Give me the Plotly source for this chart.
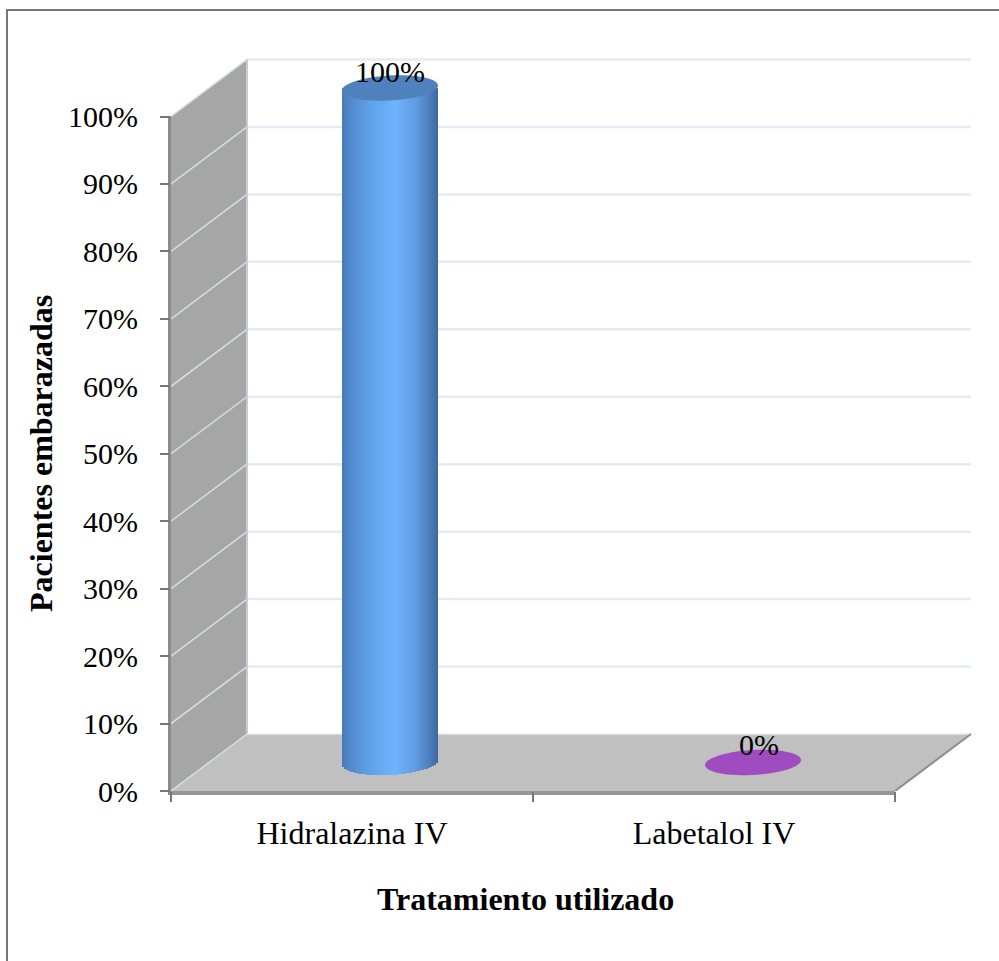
import numpy as np
import plotly.graph_objects as go

categories = ["Hidralazina IV", "Labetalol IV"]
values = [100, 0]
data_labels = ["100%", "0%"]
bar_colors = ["#4f82bd", "#9e4cc0"]
y_ticks = [0, 10, 20, 30, 40, 50, 60, 70, 80, 90, 100]
y_tick_labels = ["0%", "10%", "20%", "30%", "40%", "50%", "60%", "70%", "80%", "90%", "100%"]

# page geometry, in pixels
W, H = 999, 961
LEFT, RIGHT = 171, 975
TOP, BOTTOM = 55, 791
PX_X = 362.0          # one category
PX_Y = 6.745          # one percent

# depth of the fake 3d box in axis units
DEPTH_X = 76 / PX_X
DEPTH_Y = 57 / PX_Y
BAR_HALF = 48 / PX_X
CAP_H = 12.5 / PX_Y
TILT = 2.5 / PX_Y

x_range = [-0.5, -0.5 + (RIGHT - LEFT) / PX_X]
y_range = [0, (BOTTOM - TOP) / PX_Y]

FONT = "Liberation Serif"
GRID = "#e4ebf5"


def paper_x(px):
    return (px - LEFT) / (RIGHT - LEFT)


def paper_y(px):
    return (BOTTOM - px) / (BOTTOM - TOP)


def shade(u):
    # horizontal gradient across the cylinder, u goes -1..1
    stops_u = [-1.0, -0.8, -0.35, 0.1, 0.5, 0.8, 1.0]
    r = [72, 84, 98, 110, 98, 80, 62]
    g = [122, 140, 165, 180, 158, 130, 104]
    b = [186, 206, 236, 255, 228, 195, 160]
    return "rgb(%d,%d,%d)" % (np.interp(u, stops_u, r), np.interp(u, stops_u, g), np.interp(u, stops_u, b))


def ellipse_path(cx, cy, color):
    t = np.linspace(0, 2 * np.pi, 60)
    xs = cx + BAR_HALF * np.cos(t)
    ys = cy + CAP_H * np.sin(t) + TILT * np.cos(t)
    d = "M" + " L".join("%.5f,%.4f" % (a, b) for a, b in zip(xs, ys)) + " Z"
    return dict(type="path", path=d, xref="x", yref="y", fillcolor=color, line_width=0, layer="above")


def line(x0, y0, x1, y1, color, width):
    return dict(type="line", xref="x", yref="y", x0=x0, y0=y0, x1=x1, y1=y1,
                line=dict(color=color, width=width), layer="below")


shapes = []

# side wall and floor
wall = "M-0.5,0 L%.5f,%.4f L%.5f,%.4f L-0.5,100 Z" % (-0.5 + DEPTH_X, DEPTH_Y, -0.5 + DEPTH_X, 100 + DEPTH_Y)
shapes.append(dict(type="path", path=wall, xref="x", yref="y", fillcolor="#a6a6a6", line_width=0, layer="below"))
floor = "M-0.5,0 L1.5,0 L%.5f,%.4f L%.5f,%.4f Z" % (1.5 + DEPTH_X, DEPTH_Y, -0.5 + DEPTH_X, DEPTH_Y)
shapes.append(dict(type="path", path=floor, xref="x", yref="y", fillcolor="#c0c0c0", line_width=0, layer="below"))

# gridlines on back wall and side wall
for v in y_ticks:
    if v > 0:
        shapes.append(line(-0.5 + DEPTH_X, v + DEPTH_Y, 1.5 + DEPTH_X, v + DEPTH_Y, GRID, 2.5))
    shapes.append(line(-0.5, v, -0.5 + DEPTH_X, v + DEPTH_Y, "#d5dde8", 1.5))
shapes.append(line(-0.5 + DEPTH_X, DEPTH_Y, -0.5 + DEPTH_X, 100 + DEPTH_Y, "#c8ccd2", 2))
shapes.append(line(-0.5 + DEPTH_X, DEPTH_Y, 1.5 + DEPTH_X, DEPTH_Y, GRID, 1.5))

# edges of the floor
shapes.append(line(1.5, 0, 1.5 + DEPTH_X, DEPTH_Y, "#8c8c8c", 2))
shapes.append(dict(type="line", xref="x", yref="paper", x0=-0.5, x1=1.5, y0=paper_y(793), y1=paper_y(793),
                   line=dict(color="#969696", width=4), layer="below"))

# dark strip on the axis side of the wall, outside the plot area
shapes.append(dict(type="rect", xref="paper", yref="paper", x0=paper_x(168), x1=paper_x(171),
                   y0=paper_y(795), y1=paper_y(116), fillcolor="#8c8c8c", line_width=0, layer="below"))

# top and left edges of the frame round the picture
shapes.append(dict(type="line", xref="paper", yref="paper", x0=paper_x(6), x1=paper_x(W), y0=paper_y(10), y1=paper_y(10),
                   line=dict(color="#777777", width=2), layer="below"))
shapes.append(dict(type="line", xref="paper", yref="paper", x0=paper_x(7), x1=paper_x(7), y0=paper_y(H), y1=paper_y(9),
                   line=dict(color="#777777", width=2), layer="below"))

# the cylinders are drawn as thin vertical slices so they get a gradient
slice_x, slice_y, slice_base, slice_color = [], [], [], []
slice_w = 2 / PX_X
for cat, val, col in zip(range(len(categories)), values, bar_colors):
    cx = cat + DEPTH_X / 2
    cy = DEPTH_Y / 2
    if val > 0:
        for u in np.arange(-1 + 1 / 48, 1, 2 / 48):
            drop = CAP_H * np.sqrt(1 - u * u) - TILT * u
            slice_x.append(cx + u * BAR_HALF)
            slice_base.append(cy - drop)
            slice_y.append(val + drop)
            slice_color.append(shade(u))
    shapes.append(ellipse_path(cx + cat * 0.003, cy + val, col))

fig = go.Figure()
fig.add_trace(go.Bar(
    x=slice_x,
    y=slice_y,
    base=slice_base,
    width=slice_w * 1.15,
    marker=dict(color=slice_color, line_width=0),
    showlegend=False,
    hoverinfo="skip"
))

annotations = []
for cat, val, lab in zip(range(len(categories)), values, data_labels):
    annotations.append(dict(x=cat + DEPTH_X / 2 + cat * 0.018, y=val + DEPTH_Y / 2 + 2.4 + cat * 0.3, xref="x", yref="y", text=lab,
                            showarrow=False, xanchor="center", yanchor="middle",
                            font=dict(family=FONT, size=30, color="black")))
annotations.append(dict(x=paper_x(525), y=paper_y(899), xref="paper", yref="paper", text="<b>Tratamiento utilizado</b>",
                        showarrow=False, xanchor="center", yanchor="middle",
                        font=dict(family=FONT, size=32, color="black")))
annotations.append(dict(x=paper_x(41), y=paper_y(454), xref="paper", yref="paper", text="<b>Pacientes embarazadas</b>",
                        textangle=-90, showarrow=False, xanchor="center", yanchor="middle",
                        font=dict(family=FONT, size=32, color="black")))

fig.update_layout(
    width=W,
    height=H,
    margin=dict(l=LEFT, r=W - RIGHT, t=TOP, b=H - BOTTOM, autoexpand=False),
    plot_bgcolor="white",
    paper_bgcolor="white",
    shapes=shapes,
    annotations=annotations,
    bargap=0,
    font=dict(family=FONT, color="black"),
    xaxis=dict(
        range=x_range,
        tickmode="array",
        tickvals=list(range(len(categories))),
        ticktext=categories,
        ticks="",
        tickfont=dict(family=FONT, size=32),
        ticklabelstandoff=20,
        showgrid=False,
        zeroline=False,
        minor=dict(tickmode="array", tickvals=[-0.5, 0.5, 1.5], ticks="outside", ticklen=10,
                   tickwidth=1.5, tickcolor="#777777", showgrid=False),
    ),
    yaxis=dict(
        range=y_range,
        tickmode="array",
        tickvals=y_ticks,
        ticktext=y_tick_labels,
        ticks="outside",
        ticklen=10,
        tickwidth=1.5,
        tickcolor="#777777",
        tickfont=dict(family=FONT, size=30),
        ticklabelstandoff=16,
        showgrid=False,
        zeroline=False,
    ),
)

fig.write_html("out.html", config=dict(displayModeBar=False),
               post_script="document.body.style.margin='0';document.body.style.overflow='hidden';")
